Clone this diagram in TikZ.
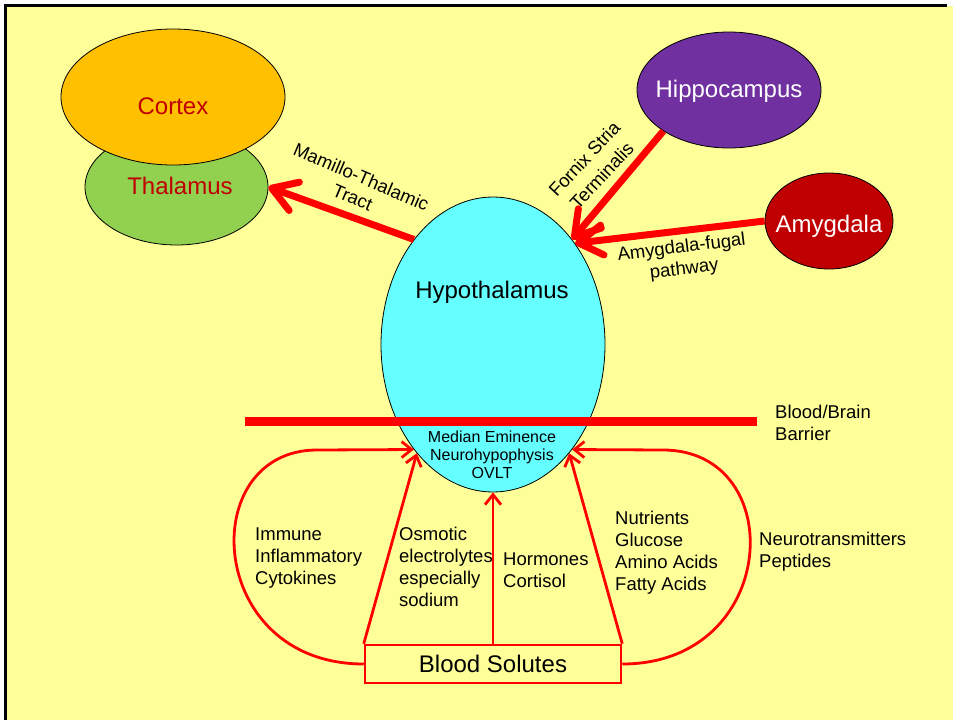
\documentclass[tikz,border=0pt]{standalone}
\usepackage{fontspec}
\setmainfont{Liberation Sans}
\usepackage{xcolor}
\definecolor{paper}{HTML}{FFFF99}
\definecolor{cortexorange}{HTML}{FFC000}
\definecolor{thalgreen}{HTML}{92D050}
\definecolor{hypocyan}{HTML}{66FFFF}
\definecolor{hippopurple}{HTML}{7030A0}
\definecolor{labelred}{HTML}{C00000}
\usepackage{tikz}
\usetikzlibrary{positioning,arrows.meta,shapes.geometric}

\begin{document}
\begin{tikzpicture}[x=1pt,y=-1pt,
	region/.style={ellipse,draw=black,line width=0.8pt,inner sep=0pt},
	bigtext/.style={font=\fontsize{24}{29}\selectfont},
	tractlabel/.style={font=\fontsize{18.5}{22}\selectfont,align=center,inner sep=0pt},
	sololabel/.style={font=\fontsize{18.5}{22}\selectfont,align=left,anchor=west,inner sep=0pt},
	tract/.style={draw=red,line width=7pt,-{Straight Barb[length=24pt,width=30pt,round]}},
	solute/.style={draw=red,line width=2.8pt,-{Straight Barb[length=10pt,width=16pt]}}]

	% page
	\useasboundingbox (0,0) rectangle (953,720);
	\fill[paper] (6,6) rectangle (953,720);
	\draw[line width=3pt] (5,720) -- (5,5) -- (947,5);

	%draw regions
	\node[region,fill=thalgreen,minimum width=183pt,minimum height=116pt] (thal) at (176.5,187) {};
	\node[region,fill=cortexorange,minimum width=224pt,minimum height=136pt] (cortex) at (173,97) {};
	\node[region,fill=hypocyan,minimum width=224pt,minimum height=295pt] (hypo) at (493,344.5) {};
	\node[region,fill=hippopurple,minimum width=184pt,minimum height=116pt] (hippo) at (729,90) {};
	\node[region,fill=labelred,minimum width=128pt,minimum height=96pt] (amyg) at (829,221) {};

	\node[bigtext,text=labelred] (cortexname) at (173,106) {Cortex};
	\node[bigtext,text=labelred] (thalname) at (180,186) {Thalamus};
	\node[bigtext] (hyponame) at (492,292) {Hypothalamus};
	\node[bigtext,text=white] (hipponame) at (729,91) {Hippocampus};
	\node[bigtext,text=white] (amygname) at (829,226) {Amygdala};

	% blood/brain barrier
	\coordinate (barrierleft) at (245,421);
	\coordinate (barrierright) at (757,421);
	\draw[red,line width=9pt] (barrierleft) -- (barrierright);
	\node[sololabel] (barriername) at (775,423) {Blood/Brain\\Barrier};
	\node[font=\fontsize{16}{18}\selectfont,align=center] (organs) at (492,455) {Median Eminence\\Neurohypophysis\\OVLT};

	% tracts into the hypothalamus
	\draw[tract] (hypo.127) -- (thal.east);
	\draw[tract] (hippo.212) -- (hypo.53);
	\draw[tract] (amyg.west) -- (hypo.51);
	\node[tractlabel,rotate=-23] (mamname) at (357,187) {Mamillo-Thalamic\\Tract};
	\node[tractlabel,font=\fontsize{18.5}{24}\selectfont,rotate=47] (fornixname) at (593,167) {Fornix Stria\\Terminalis};
	\node[tractlabel,rotate=7] (fugalname) at (683,259) {Amygdala-fugal\\pathway};

	% blood solutes
	\node[draw=red,line width=2.5pt,minimum width=256pt,minimum height=38pt,inner sep=0pt,bigtext] (blood) at (493,664) {Blood Solutes};
	\draw[solute] (blood.west) .. controls (205,664) and (195,450) .. (317,450) -- (hypo.233);
	\draw[solute] (blood.north west) -- (hypo.235);
	\draw[solute] (blood.north) -- (hypo.south);
	\draw[solute] (blood.north east) -- (hypo.305);
	\draw[solute] (blood.east) .. controls (780,664) and (790,450) .. (663,450) -- (hypo.307);

	\node[sololabel] (immunename) at (255,558) {Immune\\Inflammatory\\Cytokines};
	\node[sololabel] (osmoname) at (399,567) {Osmotic\\electrolytes\\especially\\sodium};
	\node[sololabel] (hormname) at (503,570) {Hormones\\Cortisol};
	\node[sololabel] (nutriname) at (615,553) {Nutrients\\Glucose\\Amino Acids\\Fatty Acids};
	\node[sololabel] (neuroname) at (759,552) {Neurotransmitters\\Peptides};
\end{tikzpicture}
\end{document}
